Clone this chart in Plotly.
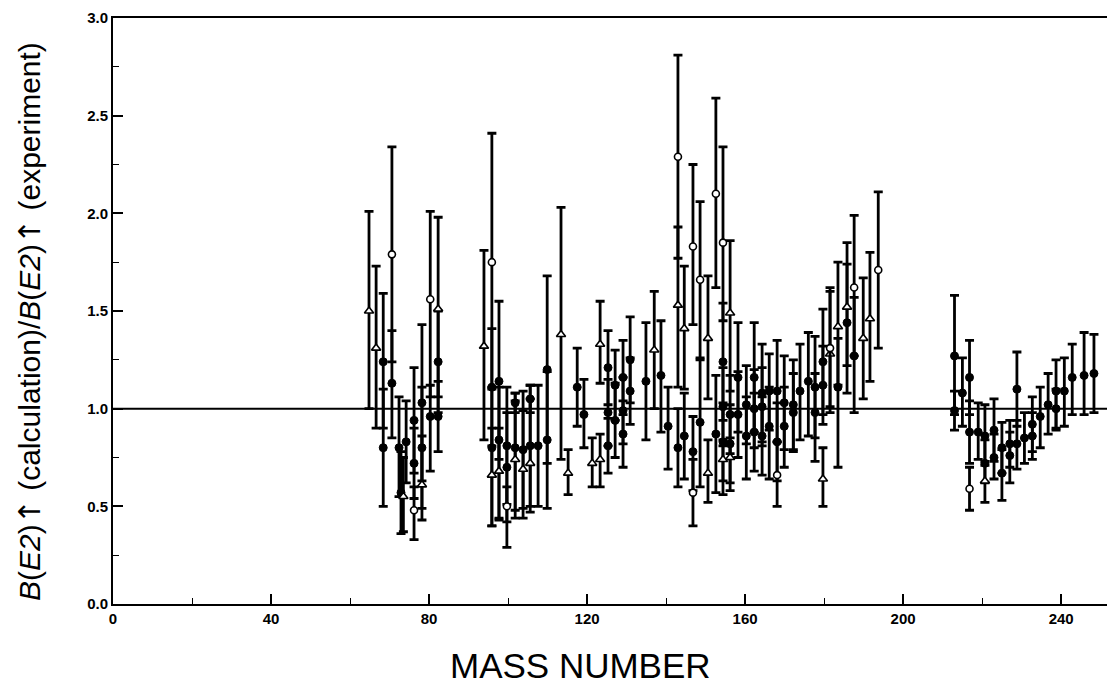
import plotly.graph_objects as go

# ---- filled circles ----
dot_x = [68.4, 68.4, 70.6, 72.4, 72.9, 74.2, 76.2, 76.2, 78.2, 78.2, 80.3, 82.3, 82.3,
         95.9, 95.9, 97.7, 97.7, 99.7, 99.7, 101.8, 101.8, 103.8, 105.6, 105.6, 107.6, 109.9, 109.9,
         117.5, 119.2, 125.3, 125.3, 125.3, 127.1, 127.1, 129.1, 129.1, 129.1, 130.9, 130.9, 134.9,
         138.7, 140.5, 143.0, 144.6, 146.8, 148.6, 152.6, 154.4, 154.4, 154.4, 156.2, 156.2, 158.2,
         158.2, 160.3, 160.3, 162.3, 162.3, 162.3, 164.3, 164.3, 164.3, 166.1, 166.1, 168.1, 168.1,
         169.9, 169.9, 172.2, 172.2, 173.9, 176.0, 177.7, 177.7, 179.7, 179.7, 183.5, 185.8, 187.6,
         213.0, 213.0, 215.0, 216.8, 216.8, 219.0, 220.7, 220.7, 223.0, 223.0, 225.0, 225.0, 227.0,
         227.0, 228.8, 228.8, 230.7, 232.7, 232.7, 234.7, 236.7, 238.7, 238.7, 240.8, 242.8, 245.8, 248.3]
dot_y = [1.24, 0.80, 1.13, 0.80, 0.57, 0.83, 0.94, 0.72, 1.03, 0.80, 0.96, 1.24, 0.96,
         1.11, 0.80, 1.14, 0.84, 0.81, 0.70, 1.03, 0.80, 0.79, 0.81, 1.05, 0.81, 1.20, 0.84,
         1.11, 0.97, 1.21, 0.98, 0.81, 1.12, 0.94, 1.16, 0.99, 0.87, 1.25, 1.09, 1.14,
         1.17, 0.91, 0.80, 0.86, 0.78, 0.93, 0.87, 1.24, 1.01, 0.83, 0.97, 0.82, 1.16,
         0.97, 1.02, 0.86, 1.16, 1.00, 0.88, 1.08, 1.01, 0.86, 1.09, 0.91, 1.09, 0.83,
         1.03, 0.91, 1.02, 0.98, 1.09, 1.14, 1.11, 0.98, 1.24, 1.12, 1.11, 1.44, 1.27,
         1.27, 0.99, 1.08, 1.16, 0.88, 0.88, 0.86, 0.72, 0.89, 0.75, 0.80, 0.67, 0.82,
         0.76, 1.10, 0.82, 0.85, 0.92, 0.86, 0.96, 1.02, 1.09, 1.00, 1.09, 1.16, 1.17, 1.18]
dot_up = [0.35, 0.30, 0.27, 0.26, 0.21, 0.21, 0.27, 0.18, 0.40, 0.31, 0.16, 0.26, 0.18,
          0.30, 0.30, 0.41, 0.27, 0.30, 0.28, 0.05, 0.28, 0.30, 0.31, 0.07, 0.31, 0.48, 0.35,
          0.20, 0.18, 0.19, 0.17, 0.14, 0.18, 0.19, 0.19, 0.17, 0.17, 0.22, 0.17, 0.30,
          0.28, 0.20, 0.20, 0.22, 0.18, 0.32, 0.30, 0.30, 0.20, 0.20, 0.20, 0.20, 0.28,
          0.22, 0.20, 0.20, 0.28, 0.20, 0.20, 0.25, 0.20, 0.20, 0.19, 0.20, 0.26, 0.20,
          0.24, 0.20, 0.23, 0.20, 0.24, 0.25, 0.26, 0.20, 0.27, 0.20, 0.25, 0.30, 0.30,
          0.31, 0.10, 0.18, 0.19, 0.16, 0.15, 0.16, 0.12, 0.16, 0.12, 0.13, 0.12, 0.12,
          0.12, 0.19, 0.12, 0.13, 0.14, 0.12, 0.15, 0.16, 0.16, 0.10, 0.17, 0.17, 0.22, 0.20]
dot_dn = [0.34, 0.30, 0.28, 0.25, 0.21, 0.21, 0.27, 0.18, 0.40, 0.31, 0.28, 0.26, 0.18,
          0.30, 0.40, 0.40, 0.40, 0.30, 0.28, 0.05, 0.32, 0.30, 0.31, 0.07, 0.31, 0.48, 0.35,
          0.20, 0.17, 0.19, 0.17, 0.14, 0.18, 0.19, 0.19, 0.17, 0.17, 0.22, 0.17, 0.30,
          0.29, 0.22, 0.20, 0.22, 0.20, 0.33, 0.30, 0.30, 0.20, 0.20, 0.20, 0.20, 0.28,
          0.22, 0.20, 0.22, 0.28, 0.20, 0.20, 0.25, 0.20, 0.20, 0.20, 0.27, 0.26, 0.20,
          0.24, 0.21, 0.23, 0.20, 0.25, 0.28, 0.26, 0.25, 0.27, 0.20, 0.41, 0.36, 0.29,
          0.30, 0.10, 0.17, 0.19, 0.16, 0.14, 0.15, 0.10, 0.16, 0.11, 0.13, 0.14, 0.12,
          0.14, 0.19, 0.13, 0.13, 0.14, 0.12, 0.16, 0.15, 0.20, 0.10, 0.18, 0.19, 0.20, 0.20]

# ---- open triangles ----
tri_x = [64.8, 66.6, 73.5, 78.2, 82.3, 93.9, 95.9, 97.7, 101.8, 103.8, 105.6, 113.4, 115.2,
         121.3, 123.3, 123.3, 137.0, 143.0, 144.6, 150.6, 150.6, 154.4, 156.2, 156.2,
         179.7, 181.5, 183.5, 185.8, 189.9, 191.6, 220.7]
tri_y = [1.50, 1.31, 0.55, 0.61, 1.51, 1.32, 0.66, 0.68, 0.74, 0.69, 0.72, 1.38, 0.67,
         0.72, 1.33, 0.74, 1.30, 1.53, 1.41, 1.36, 0.67, 0.74, 1.49, 0.75,
         0.64, 1.28, 1.42, 1.52, 1.36, 1.46, 0.63]
tri_up = [0.51, 0.42, 0.20, 0.25, 0.47, 0.49, 0.24, 0.22, 0.30, 0.30, 0.33, 0.65, 0.12,
          0.13, 0.22, 0.13, 0.30, 0.40, 0.32, 0.32, 0.17, 0.10, 0.37, 0.10,
          0.16, 0.32, 0.33, 0.33, 0.31, 0.34, 0.10]
tri_dn = [0.50, 0.41, 0.18, 0.18, 0.45, 0.48, 0.26, 0.25, 0.30, 0.25, 0.25, 0.64, 0.11,
          0.12, 0.20, 0.14, 0.30, 0.42, 0.31, 0.31, 0.15, 0.18, 0.40, 0.17,
          0.14, 0.30, 0.30, 0.30, 0.31, 0.32, 0.11]

# ---- open circles ----
oc_x = [70.6, 76.2, 80.3, 95.9, 99.7, 143.0, 146.8, 146.8, 148.6, 152.6, 154.4, 168.1,
        181.5, 187.6, 193.7, 216.8]
oc_y = [1.79, 0.48, 1.56, 1.75, 0.50, 2.29, 1.83, 0.57, 1.66, 2.10, 1.85, 0.66,
        1.31, 1.62, 1.71, 0.59]
oc_up = [0.55, 0.12, 0.45, 0.66, 0.10, 0.52, 0.42, 0.17, 0.40, 0.49, 0.49, 0.17,
         0.31, 0.37, 0.40, 0.11]
oc_dn = [0.55, 0.15, 0.50, 0.64, 0.21, 0.52, 0.40, 0.17, 0.40, 0.48, 0.40, 0.16,
         0.30, 0.35, 0.40, 0.11]

x_ticks = [0, 40, 80, 120, 160, 200, 240]
y_ticks = [0.0, 0.5, 1.0, 1.5, 2.0, 2.5, 3.0]

fig = go.Figure()

def add(xs, ys, up, dn, symbol, size, fill, lw):
    fig.add_trace(go.Scatter(
        x=xs, y=ys, mode="markers",
        marker=dict(symbol=symbol, size=size, color=fill, line=dict(color="black", width=lw)),
        error_y=dict(type="data", symmetric=False, array=up, arrayminus=dn,
                     color="black", thickness=2.8, width=4.5),
        showlegend=False, cliponaxis=False))

add(dot_x, dot_y, dot_up, dot_dn, "circle", 8, "black", 1)
add(tri_x, tri_y, tri_up, tri_dn, "triangle-up", 8, "white", 1.6)
add(oc_x, oc_y, oc_up, oc_dn, "circle", 7, "white", 1.6)

fig.add_shape(type="line", xref="paper", yref="y", x0=0, x1=1, y0=1.0, y1=1.0,
              line=dict(color="black", width=2))

tickfont = dict(family="Liberation Sans, Arial, sans-serif", size=15, color="black", weight="bold")

fig.update_xaxes(range=[0, 251.6], tickvals=x_ticks, ticktext=[str(v) for v in x_ticks],
                 ticks="inside", ticklen=10, tickwidth=1.5, tickcolor="black",
                 minor=dict(dtick=20, tick0=0, ticks="inside", ticklen=6, tickwidth=1.2, tickcolor="black"),
                 showline=True, linecolor="black", linewidth=2, mirror=True,
                 showgrid=False, zeroline=False, tickfont=tickfont)
fig.update_yaxes(range=[0, 3.0], tickvals=y_ticks, ticktext=[f"{v:.1f}" for v in y_ticks],
                 ticks="inside", ticklen=10, tickwidth=1.5, tickcolor="black",
                 minor=dict(dtick=0.25, tick0=0, ticks="inside", ticklen=6, tickwidth=1.2, tickcolor="black"),
                 showline=True, linecolor="black", linewidth=2, mirror=False,
                 showgrid=False, zeroline=False, tickfont=tickfont)

arrow = '<span style="font-family:DejaVu Sans">↑</span>'
fig.add_annotation(text="MASS NUMBER", xref="paper", yref="paper", x=(580 - 113) / 994, y=0,
                   yshift=-61, showarrow=False, yanchor="middle", xanchor="center",
                   font=dict(family="Liberation Sans, Arial, sans-serif", size=35, color="black"))
fig.add_annotation(text=f"<i>B</i>(<i>E2</i>){arrow} (calculation)/<i>B</i>(<i>E2</i>){arrow} (experiment)",
                   xref="paper", yref="paper", x=0, xshift=-83, y=(604 - 322) / 586,
                   textangle=-90, showarrow=False, xanchor="center", yanchor="middle",
                   font=dict(family="Liberation Sans, Arial, sans-serif", size=30, color="black"))

fig.update_layout(width=1107, height=690, margin=dict(l=113, r=0, t=18, b=86),
                  plot_bgcolor="white", paper_bgcolor="white")

fig.write_html("out.html")
